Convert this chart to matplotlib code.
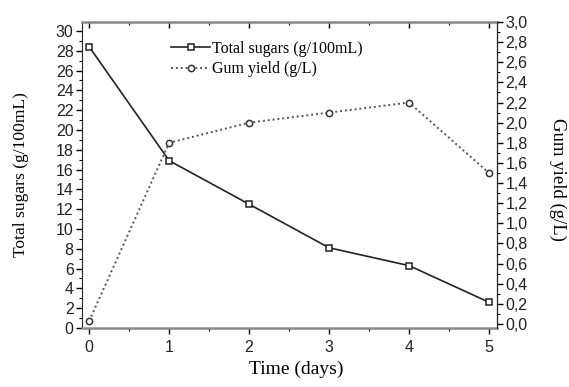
import matplotlib.pyplot as plt
from matplotlib.ticker import MultipleLocator, FuncFormatter

days = [0, 1, 2, 3, 4, 5]
total_sugars = [28.4, 16.9, 12.5, 8.1, 6.3, 2.6]
gum_yield = [0.03, 1.8, 2.0, 2.1, 2.2, 1.5]

serif = "Liberation Serif"
sans = "Liberation Sans"

fig = plt.figure(figsize=(5.69, 3.87), dpi=100)
ax = fig.add_axes([82 / 569, 1 - 328 / 387, (497 - 82) / 569, (328 - 22) / 387])
ax2 = ax.twinx()

l1, = ax.plot(days, total_sugars, color="#222222", linewidth=1.2, marker="s",
              markersize=4.5, markerfacecolor="white", markeredgecolor="#222222",
              markeredgewidth=1.1, label="Total sugars (g/100mL)")
l2, = ax2.plot(days, gum_yield, color="#555555", linewidth=1.4, linestyle=(0, (1, 1.5)),
               marker="o", markersize=4.5, markerfacecolor="white",
               markeredgecolor="#333333", markeredgewidth=1.1, label="Gum yield (g/L)")

ax.set_xlim(-0.09, 5.1)
ax.set_ylim(0, 30.9)
ax2.set_ylim(-0.04, 3.0)

ax.xaxis.set_major_locator(MultipleLocator(1))
ax.xaxis.set_minor_locator(MultipleLocator(0.5))
ax.yaxis.set_major_locator(MultipleLocator(2))
ax.yaxis.set_minor_locator(MultipleLocator(1))
ax2.yaxis.set_major_locator(MultipleLocator(0.2))
ax2.yaxis.set_minor_locator(MultipleLocator(0.1))
ax2.yaxis.set_major_formatter(FuncFormatter(lambda v, p: f"{v:.1f}".replace(".", ",")))

ax.tick_params(axis="both", which="major", direction="out", length=4, width=1,
               labelsize=11.5, pad=2)
ax.tick_params(axis="x", which="major", pad=5)
ax.tick_params(axis="both", which="minor", direction="out", length=2.5, width=0.8)
ax.tick_params(axis="x", which="both", top=True, labeltop=False)
ax2.tick_params(axis="y", which="major", direction="out", length=4, width=1,
                labelsize=11.5, pad=2)
ax2.tick_params(axis="y", which="minor", direction="out", length=2.5, width=0.8)
# ticks on the top spine point inward
for t in ax.xaxis.get_major_ticks() + ax.xaxis.get_minor_ticks():
    t.tick2line.set_marker(3)

for a in (ax, ax2):
    for lab in a.get_xticklabels() + a.get_yticklabels():
        lab.set_fontfamily(sans)
        lab.set_color("#222222")

for s in ("top", "bottom"):
    ax.spines[s].set_color("#888888")
    ax.spines[s].set_linewidth(1.8)
ax.spines["left"].set_color("#222222")
ax2.spines["right"].set_color("#222222")
for s in ("top", "bottom", "left", "right"):
    ax2.spines[s].set_visible(s == "right")

ax.set_xlabel("Time (days)", fontfamily=serif, fontsize=14, labelpad=4)
ax.xaxis.label.set_x(0.516)
ax.set_ylabel("Total sugars (g/100mL)", fontfamily=serif, fontsize=12.6, labelpad=19)
ax2.set_ylabel("Gum yield (g/L)", fontfamily=serif, fontsize=13.5, rotation=270,
               labelpad=28)
ax2.yaxis.label.set_y(0.484)

ax.legend(handles=[l1, l2], loc="upper left", bbox_to_anchor=(0.2, 0.96),
          frameon=False, prop={"family": serif, "size": 11.5}, handlelength=2.4,
          handletextpad=0.15, borderaxespad=0, labelspacing=0.3)

plt.savefig("out.png", dpi=100, facecolor="white")
plt.close()
